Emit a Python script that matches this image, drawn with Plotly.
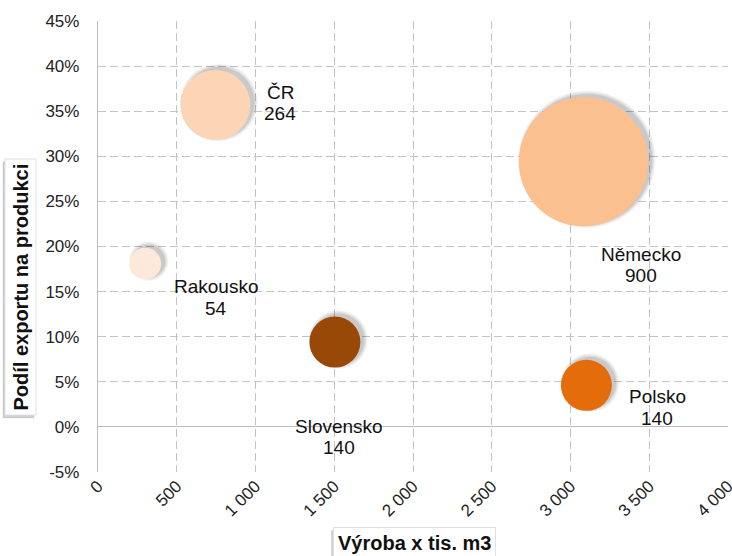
import math
import plotly.graph_objects as go

# ---- data ----
countries = ["ČR", "Německo", "Rakousko", "Slovensko", "Polsko"]
production = [745, 3082, 300, 1504, 3101]          # Výroba x tis. m3
export_share = [0.357, 0.294, 0.181, 0.094, 0.046]  # Podíl exportu na produkci
bubble_value = [264, 900, 54, 140, 140]

x_tickvals = [0, 500, 1000, 1500, 2000, 2500, 3000, 3500, 4000]
x_ticktext = ["0", "500", "1 000", "1 500", "2 000", "2 500", "3 000", "3 500", "4 000"]
y_tickvals = [-0.05, 0, 0.05, 0.10, 0.15, 0.20, 0.25, 0.30, 0.35, 0.40, 0.45]
y_ticktext = ["-5%", "0%", "5%", "10%", "15%", "20%", "25%", "30%", "35%", "40%", "45%"]

# ---- styles ----
colors = ["#FBD5B5", "#FAC090", "#FDE9D9", "#984807", "#E46C0A"]
label_dx = [65, 58, 71, 4, 71]      # px offsets of data label blocks
label_dy = [2, -103, -34, -95, -22]
LINE_GAP = 21.5
FONT = "Liberation Sans, Arial, sans-serif"

W, H = 732, 556
ML, MR, MT, MB = 98, 4, 21, 84
x_range = [0, 4000.01]
y_range = [-0.0501, 0.4501]
px_x = (x_range[1] - x_range[0]) / (W - ML - MR)
px_y = (y_range[1] - y_range[0]) / (H - MT - MB)

max_diam = 129.4
sizeref = 2 * max(bubble_value) / max_diam ** 2
diams = [2 * math.sqrt(v / (2 * sizeref)) for v in bubble_value]

fig = go.Figure()

# soft drop shadow (layered), offset to the upper right
for k, op in [(4, 0.05), (3, 0.07), (1.8, 0.09), (0.6, 0.12)]:
    fig.add_trace(go.Scatter(
        x=[xv + 3.5 * px_x for xv in production],
        y=[yv + 2.5 * px_y for yv in export_share],
        mode="markers",
        marker=dict(size=[d + 2 * k for d in diams], sizemode="diameter",
                    color=f"rgba(0,0,0,{op})", line=dict(width=0)),
        hoverinfo="skip", showlegend=False,
    ))

fig.add_trace(go.Scatter(
    x=production, y=export_share, mode="markers",
    marker=dict(size=bubble_value, sizemode="area", sizeref=sizeref,
                color=colors, opacity=1, line=dict(width=0)),
    text=countries, showlegend=False,
))

annotations = []
for c, xv, yv, v, dx, dy in zip(countries, production, export_share, bubble_value, label_dx, label_dy):
    for txt, off in [(c, LINE_GAP / 2), (str(v), -LINE_GAP / 2)]:
        annotations.append(dict(
            x=xv, y=yv, xref="x", yref="y", text=txt, showarrow=False,
            xshift=dx, yshift=dy + off, xanchor="center", yanchor="middle",
            font=dict(family=FONT, size=19, color="#111111"), align="center",
        ))

# axis title boxes with shadow
def title_box(text, x, y, angle):
    common = dict(text=f"<b>{text}</b>", x=x, y=y, xref="paper", yref="paper", showarrow=False,
                  textangle=angle, xanchor="center", yanchor="middle", borderpad=4, borderwidth=1)
    sh = dict(common, font=dict(family=FONT, size=20, color="rgba(0,0,0,0)"),
              bgcolor="rgba(0,0,0,0.18)", bordercolor="rgba(0,0,0,0.08)", xshift=-2, yshift=-3)
    fg = dict(common, font=dict(family=FONT, size=20, color="#111111"),
              bgcolor="white", bordercolor="#E0E0E0")
    return [sh, fg]

pw = W - ML - MR
ph = H - MT - MB
annotations += title_box("Podíl exportu na produkci", (20.5 - ML) / pw, (H - MB - 287) / ph, -90)
annotations += title_box("Výroba x tis. m3", (414 - ML) / pw, (H - MB - 543) / ph, 0)

grid = dict(showgrid=True, gridcolor="#C4C4C4", gridwidth=1, griddash="8px,4px")

fig.update_layout(
    width=W, height=H,
    margin=dict(l=ML, r=MR, t=MT, b=MB, autoexpand=False),
    paper_bgcolor="white", plot_bgcolor="white",
    font=dict(family=FONT, size=17, color="#222222"),
    xaxis=dict(range=x_range, tickvals=x_tickvals, ticktext=x_ticktext, tickangle=-45,
               zeroline=False, showline=False, ticks="", ticklabelstandoff=0,
               ticklabeloverflow="allow", **grid,
               tickfont=dict(family=FONT, size=17, color="#222222")),
    yaxis=dict(range=y_range, tickvals=y_tickvals, ticktext=y_ticktext,
               zeroline=True, zerolinecolor="#BDBDBD", zerolinewidth=1.3,
               showline=True, linecolor="#BDBDBD", linewidth=1.3,
               ticks="", ticklabelstandoff=14, **grid,
               tickfont=dict(family=FONT, size=17, color="#222222")),
    annotations=annotations,
)

fig.write_html("out.html", config={"displayModeBar": False},
               post_script="document.body.style.margin='0';document.body.style.padding='0';")
